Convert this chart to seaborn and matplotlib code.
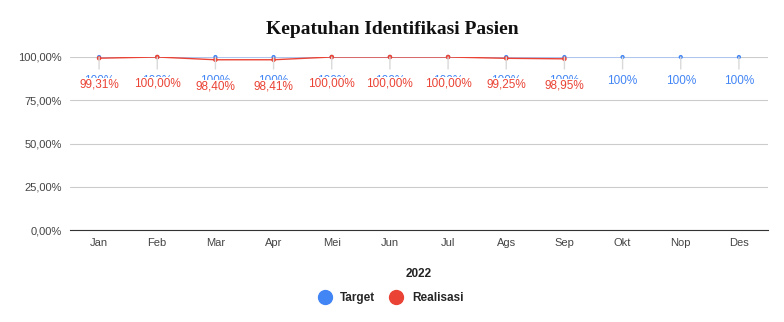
import matplotlib
matplotlib.use("Agg")
import matplotlib.pyplot as plt
import seaborn as sns
import pandas as pd
from matplotlib.lines import Line2D
from matplotlib.ticker import FuncFormatter

months = ["Jan", "Feb", "Mar", "Apr", "Mei", "Jun", "Jul", "Ags", "Sep", "Okt", "Nop", "Des"]
target = [100, 100, 100, 100, 100, 100, 100, 100, 100, 100, 100, 100]
realisasi = [99.31, 100.00, 98.40, 98.41, 100.00, 100.00, 100.00, 99.25, 98.95]
series_names = ["Target", "Realisasi"]
colors = ["#4285F4", "#EA4335"]

rows = []
for i, m in enumerate(months):
    rows.append({"x": i, "value": target[i], "series": "Target"})
for i, v in enumerate(realisasi):
    rows.append({"x": i, "value": v, "series": "Realisasi"})
df = pd.DataFrame(rows)

sns.set_theme(style="white")
plt.rcParams["font.family"] = ["Liberation Sans", "DejaVu Sans"]

fig = plt.figure(figsize=(7.84, 3.22), dpi=100)
ax = fig.add_axes([70/784, 1-230/322, 698/784, (230-57)/322])

sns.lineplot(data=df[df.series == "Target"], x="x", y="value", color="#a9c4f5",
             lw=1.2, ax=ax, legend=False, zorder=3)
sns.lineplot(data=df[df.series == "Realisasi"], x="x", y="value", color=colors[1],
             lw=1.0, ax=ax, legend=False, zorder=4)
ax.scatter(range(len(target)), target, s=9, color=colors[0], zorder=5, clip_on=False,
           marker="o", edgecolors="none")
ax.scatter(range(len(realisasi)), realisasi, s=11, color=colors[1], zorder=6, clip_on=False,
           marker="o", edgecolors="none")

# data labels
for i, v in enumerate(target):
    ax.annotate("100%", xy=(i, v), xytext=(0, -17.3), textcoords="offset points",
                ha="center", va="center", fontsize=8.5, color=colors[0], zorder=7,
                arrowprops=dict(arrowstyle="-", color="#d9d9d9", lw=1, shrinkA=2, shrinkB=0))
for i, v in enumerate(realisasi):
    lbl = f"{v:.2f}%".replace(".", ",")
    ax.annotate(lbl, xy=(i, v), xytext=(0, -19.2), textcoords="offset points",
                ha="center", va="center", fontsize=8.5, color=colors[1], zorder=8,
                bbox=dict(boxstyle="square,pad=0.05", fc="white", ec="none"))

ax.set_xlim(-0.5, 11.5)
ax.set_ylim(0, 100)
ax.set_yticks([0, 25, 50, 75, 100])
ax.yaxis.set_major_formatter(FuncFormatter(lambda y, p: f"{y:.2f}%".replace(".", ",")))
ax.set_xticks(range(len(months)))
ax.set_xticklabels(months)
ax.tick_params(axis="both", labelsize=8, colors="#444444", length=0, pad=6)
ax.grid(axis="y", color="#cccccc", lw=0.8)
ax.grid(axis="x", visible=False)
for s in ["top", "right", "left"]:
    ax.spines[s].set_visible(False)
ax.spines["bottom"].set_color("#333333")
ax.spines["bottom"].set_linewidth(0.8)
ax.set_ylabel("")
ax.set_xlabel("2022", fontsize=8.5, fontweight="bold", color="#222222", labelpad=14)

fig.text(0.5, 1-29/322, "Kepatuhan Identifikasi Pasien", ha="center", va="center",
         fontsize=14, fontweight="bold", family="Liberation Serif", color="#111111")

handles = [Line2D([], [], marker="o", ls="", color=c, markersize=10) for c in colors]
fig.legend(handles, series_names, loc="center", bbox_to_anchor=(0.495, 1-298/322), ncol=2,
           frameon=False, handletextpad=0.3, columnspacing=0.8,
           prop={"weight": "bold", "size": 8.5})

fig.savefig("out.png", dpi=100)
